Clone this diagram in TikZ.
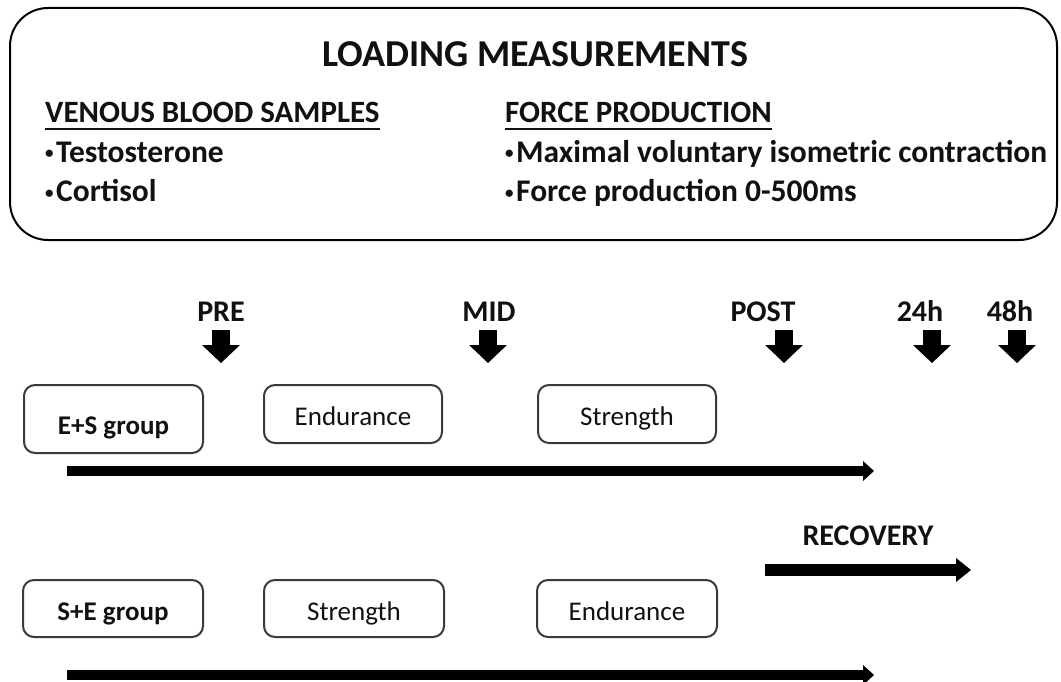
\documentclass[tikz,border=0pt]{standalone}
\usepackage{fontspec}
\setmainfont{Carlito}
\usetikzlibrary{arrows.meta}
\definecolor{boxline}{HTML}{3A3A3A}
\definecolor{ink}{HTML}{111111}
\newcommand{\smbul}{\raisebox{4pt}{\fontsize{17}{17}\selectfont\textbullet}\hspace{2.5pt}}
\tikzset{
  bigbox/.style={draw=black, line width=2pt, rounded corners=38pt},
  stagebox/.style={draw=boxline, line width=2pt, rounded corners=11pt},
  titletext/.style={anchor=base, inner sep=0pt, text=ink, font=\fontsize{38}{44}\selectfont\bfseries},
  headtext/.style={anchor=base west, inner sep=0pt, text=ink, font=\fontsize{31}{36}\selectfont\bfseries},
  itemtext/.style={anchor=base west, inner sep=0pt, text=ink, font=\fontsize{31.5}{36}\selectfont\bfseries},
  timetext/.style={anchor=base, inner sep=0pt, text=ink, font=\fontsize{30}{35}\selectfont\bfseries},
  grouptext/.style={anchor=base, inner sep=0pt, text=ink, font=\fontsize{27}{32}\selectfont\bfseries},
  stagetext/.style={anchor=base, inner sep=0pt, text=ink, font=\fontsize{27}{32}\selectfont},
  downarrow/.style={line width=18pt, -{Triangle[length=18pt,width=38pt,line width=0pt]}},
  timeline/.style={line width=10pt, -{Triangle[length=11pt,width=20pt,line width=0pt]}},
  recarrow/.style={line width=12pt, -{Triangle[length=15pt,width=24pt,line width=0pt]}},
  underl/.style={line width=2pt, draw=ink}
}
\begin{document}
\begin{tikzpicture}[x=1pt,y=-1pt]
\useasboundingbox (0,0) rectangle (1061,682);

% top box
\draw[bigbox] (10,8) rectangle (1057,240);
\node[titletext] (title) at (535,67) {LOADING MEASUREMENTS};
\node[headtext] (venous) at (45,123) {VENOUS BLOOD SAMPLES};
\draw[underl] ([yshift=-6pt]venous.base west) -- ([yshift=-6pt]venous.base east);
\node[itemtext] (testo) at (45,163) {\smbul Testosterone};
\node[itemtext] (cort) at (45,202) {\smbul Cortisol};
\node[headtext] (force) at (505,123) {FORCE PRODUCTION};
\draw[underl] ([yshift=-6pt]force.base west) -- ([yshift=-6pt]force.base east);
\node[itemtext] (mvic) at (505,163) {\smbul Maximal voluntary isometric contraction};
\node[itemtext] (fprod) at (505,202) {\smbul Force production 0-500ms};

% time points
\node[timetext] (pre) at (221,321) {PRE};
\node[timetext] (mid) at (489,321) {MID};
\node[timetext] (post) at (763,321) {POST};
\node[timetext] (h24) at (920,321) {24h};
\node[timetext] (h48) at (1010,321) {48h};
\coordinate (preT) at (221,330);  \coordinate (preB) at (221,363);
\coordinate (midT) at (488,330);  \coordinate (midB) at (488,363);
\coordinate (postT) at (784,330); \coordinate (postB) at (784,363);
\coordinate (h24T) at (932,330);  \coordinate (h24B) at (932,363);
\coordinate (h48T) at (1017,330); \coordinate (h48B) at (1017,363);
\draw[downarrow] (preT) -- (preB);
\draw[downarrow] (midT) -- (midB);
\draw[downarrow] (postT) -- (postB);
\draw[downarrow] (h24T) -- (h24B);
\draw[downarrow] (h48T) -- (h48B);

% row 1
\draw[stagebox] (24,385) rectangle (203,453);
\node[grouptext] (es) at (113.5,434) {E+S group};
\draw[stagebox] (264,385) rectangle (442,443);
\node[stagetext] (end1) at (353,425) {Endurance};
\draw[stagebox] (538,385) rectangle (716,443);
\node[stagetext] (str1) at (627,425) {Strength};
\coordinate (tl1s) at (67,471); \coordinate (tl1e) at (874,471);
\draw[timeline] (tl1s) -- (tl1e);

% recovery
\node[timetext] (rec) at (868,545) {RECOVERY};
\coordinate (recs) at (765,570); \coordinate (rece) at (971,570);
\draw[recarrow] (recs) -- (rece);

% row 2
\draw[stagebox] (23,580) rectangle (203,637);
\node[grouptext] (se) at (113,620) {S+E group};
\draw[stagebox] (264,580) rectangle (444,637);
\node[stagetext] (str2) at (354,620) {Strength};
\draw[stagebox] (537,580) rectangle (717,637);
\node[stagetext] (end2) at (627,620) {Endurance};
\coordinate (tl2s) at (67,675); \coordinate (tl2e) at (874,675);
\draw[timeline] (tl2s) -- (tl2e);
\end{tikzpicture}
\end{document}
